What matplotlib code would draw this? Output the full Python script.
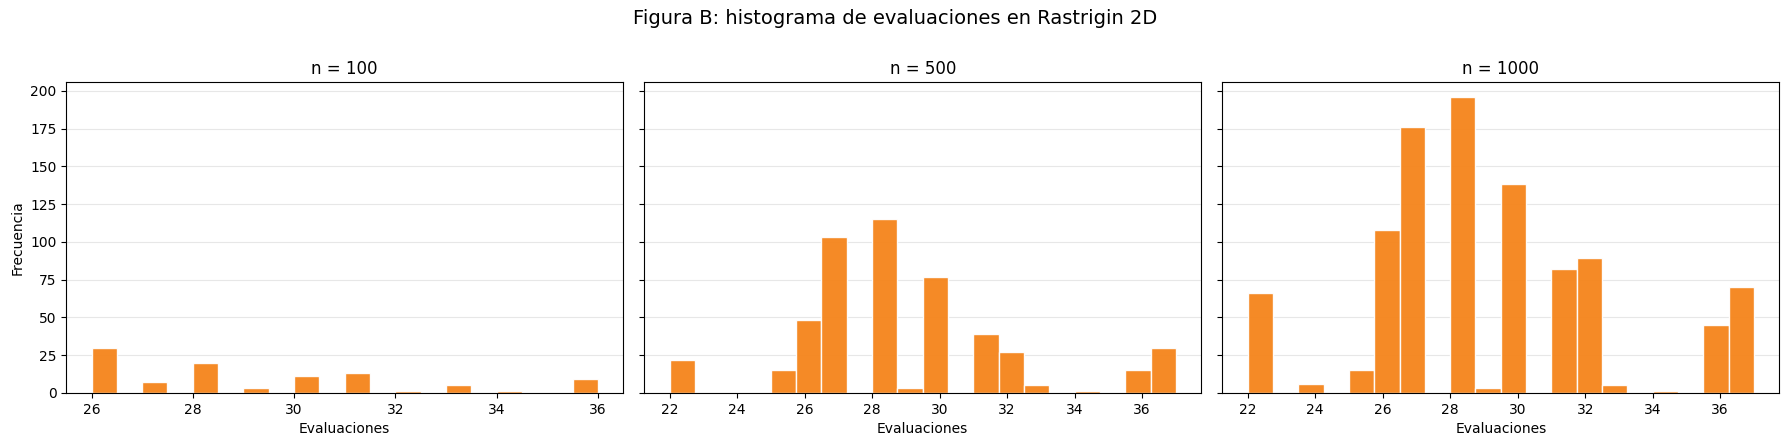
import matplotlib
matplotlib.use("Agg")
import matplotlib.pyplot as plt

eval_100 = [26, 27, 28, 29, 30, 31, 32, 33, 34, 36]
count_100 = [30, 7, 20, 3, 11, 13, 1, 5, 1, 9]

eval_500 = [22, 25, 26, 27, 28, 29, 30, 31, 32, 33, 34, 36, 37]
count_500 = [22, 15, 48, 103, 115, 3, 77, 39, 27, 5, 1, 15, 30]

eval_1000 = [22, 24, 25, 26, 27, 28, 29, 30, 31, 32, 33, 34, 36, 37]
count_1000 = [66, 6, 15, 108, 176, 196, 3, 138, 82, 89, 5, 1, 45, 70]

panels = [
    ("n = 100", eval_100, count_100),
    ("n = 500", eval_500, count_500),
    ("n = 1000", eval_1000, count_1000),
]

fig, axes = plt.subplots(1, 3, figsize=(17.9, 4.46), sharey=True)

for ax, (title, vals, counts) in zip(axes, panels):
    ax.hist(vals, bins=20, weights=counts, color="#f5841a", alpha=0.95,
            edgecolor="white", linewidth=1)
    ax.set_title(title)
    ax.set_xlabel("Evaluaciones")
    ax.grid(axis="y", alpha=0.3)
    ax.set_axisbelow(True)

axes[0].set_ylabel("Frecuencia")

fig.suptitle("Figura B: histograma de evaluaciones en Rastrigin 2D", fontsize=14)
fig.subplots_adjust(left=0.037, right=0.994, top=0.816, bottom=0.119, wspace=0.038)
plt.savefig("out.png", dpi=100)
